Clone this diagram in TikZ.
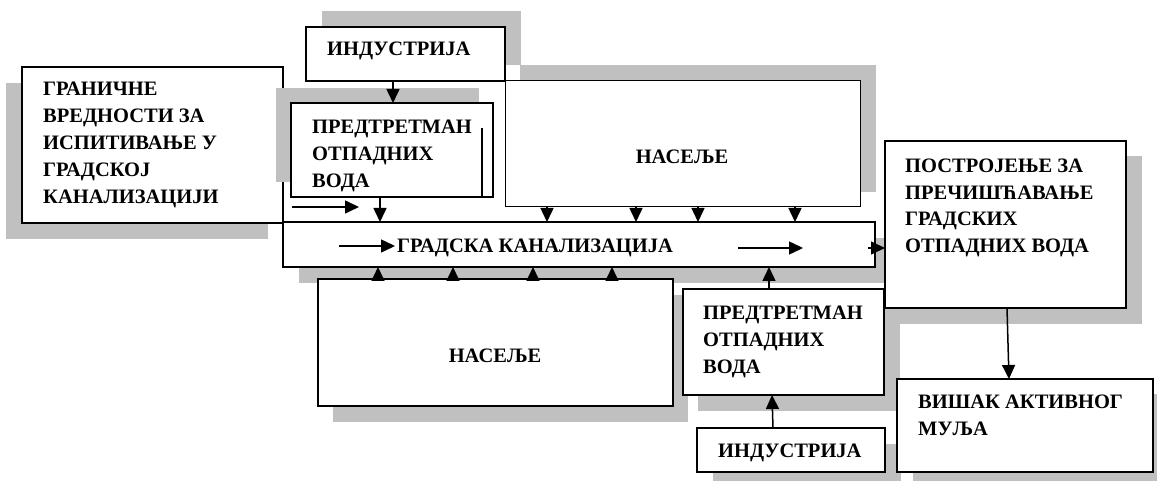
\documentclass[tikz,border=0pt]{standalone}
\usepackage{fontspec}
\setmainfont{Liberation Serif}
\usetikzlibrary{arrows.meta}
\definecolor{shd}{RGB}{192,192,192}
\begin{document}
\begin{tikzpicture}[x=1pt,y=-1pt,
 boxn/.style={draw=black,line width=1.8pt,fill=white,inner sep=0pt,outer sep=0pt,anchor=north west},
 thinbox/.style={boxn,line width=1pt},
 lbl/.style={font=\fontsize{20.5}{27}\selectfont\bfseries,align=left,inner sep=0pt,anchor=base west},
 clbl/.style={lbl,anchor=base},
 arr/.style={line width=1.5pt,-{Triangle[length=14pt,width=13pt]}},
 shadow/.style={fill=shd,draw=none}
]
\useasboundingbox (0,0) rectangle (1157,481);
% Granicne
\fill[shadow] (6,83) rectangle (268,239);
\node[boxn,minimum width=261pt,minimum height=156pt] (gran) at (22,67) {};
% Predtretman top
\fill[shadow] (276,88) rectangle (479,182);
\node[boxn,minimum width=202pt,minimum height=94pt] (predtop) at (291,103) {};
\draw[line width=1.5pt] (482,128) -- (482,0 |- predtop.south);
% Industrija top
\fill[shadow] (322,11) rectangle (521,65);
\node[boxn,minimum width=199pt,minimum height=54pt] (indtop) at (306,27) {};
% Naselje top
\fill[shadow] (520,65) rectangle (876,192);
\node[thinbox,minimum width=355pt,minimum height=126pt] (nastop) at (505,81) {};
% Gradska kanalizacija
\fill[shadow] (299,238) rectangle (891,283);
\node[boxn,minimum width=592pt,minimum height=45pt] (grad) at (283,222) {};
% Naselje bottom
\fill[shadow] (333,295) rectangle (688,422);
\node[boxn,minimum width=355pt,minimum height=127pt] (nasbot) at (318,279) {};
% Predtretman bottom
\fill[shadow] (698,305) rectangle (900,411);
\node[boxn,minimum width=201pt,minimum height=106pt] (predbot) at (683,289) {};
% Industrija bottom
\fill[shadow] (713,444) rectangle (901,488);
\node[boxn,minimum width=188pt,minimum height=44pt] (indbot) at (697,428) {};
% Postrojenje
\fill[shadow] (900,156) rectangle (1142,324);
\node[boxn,minimum width=241pt,minimum height=167pt] (postr) at (885,141) {};
% Visak
\fill[shadow] (913,394) rectangle (1169,488);
\node[boxn,minimum width=256pt,minimum height=93pt] (visak) at (897,379) {};

% Labels (anchor = baseline of the last line)
\node[lbl] (tindtop) at (327,56) {ИНДУСТРИЈА};
\node[lbl] (tgran) at (43,204) {ГРАНИЧНЕ\\ВРЕДНОСТИ ЗА\\ИСПИТИВАЊЕ У\\ГРАДСКОЈ\\КАНАЛИЗАЦИЈИ};
\node[lbl] (tpredtop) at (312,188) {ПРЕДТРЕТМАН\\ОТПАДНИХ\\ВОДА};
\node[clbl] (tnastop) at (682,164) {НАСЕЉЕ};
\node[lbl] (tgrad) at (397,253) {ГРАДСКА КАНАЛИЗАЦИЈА};
\node[lbl] (tpostr) at (905,253) {ПОСТРОЈЕЊЕ ЗА\\ПРЕЧИШЋАВАЊЕ\\ГРАДСКИХ\\ОТПАДНИХ ВОДА};
\node[lbl] (tpredbot) at (703,373) {ПРЕДТРЕТМАН\\ОТПАДНИХ\\ВОДА};
\node[lbl] (tindbot) at (718,457) {ИНДУСТРИЈА};
\node[clbl] (tnasbot) at (495,362) {НАСЕЉЕ};
\node[lbl] (tvisak) at (918,435) {ВИШАК АКТИВНОГ\\МУЉА};

% Connectors
\draw[arr] (393,0 |- indtop.south) -- (393,0 |- predtop.north);
\draw[arr] (380,0 |- predtop.south) -- (380,0 |- grad.north);
\foreach \xx in {547,636,698,795}
  \draw[arr] (\xx,0 |- nastop.south) -- (\xx,0 |- grad.north);
\foreach \xx in {378,453,533,612}
  \draw[arr] (\xx,0 |- nasbot.north) -- (\xx,0 |- grad.south);
\draw[arr] (769,0 |- predbot.north) -- (769,0 |- grad.south);
\draw[arr] (773,0 |- indbot.north) -- (772,0 |- predbot.south);
\draw[arr] (1007,0 |- postr.south) -- (1009,0 |- visak.north);
\coordinate (gstart) at (868,248);
\draw[arr] (gstart) -- (postr.west |- gstart);
\coordinate (ga1) at (292,207);
\coordinate (ga2) at (359,207);
\draw[arr] (ga1) -- (ga2);
\coordinate (gb1) at (339,246);
\coordinate (gb2) at (395,246);
\draw[arr] (gb1) -- (gb2);
\coordinate (gc1) at (738,248);
\coordinate (gc2) at (803,248);
\draw[arr] (gc1) -- (gc2);
\end{tikzpicture}
\end{document}
